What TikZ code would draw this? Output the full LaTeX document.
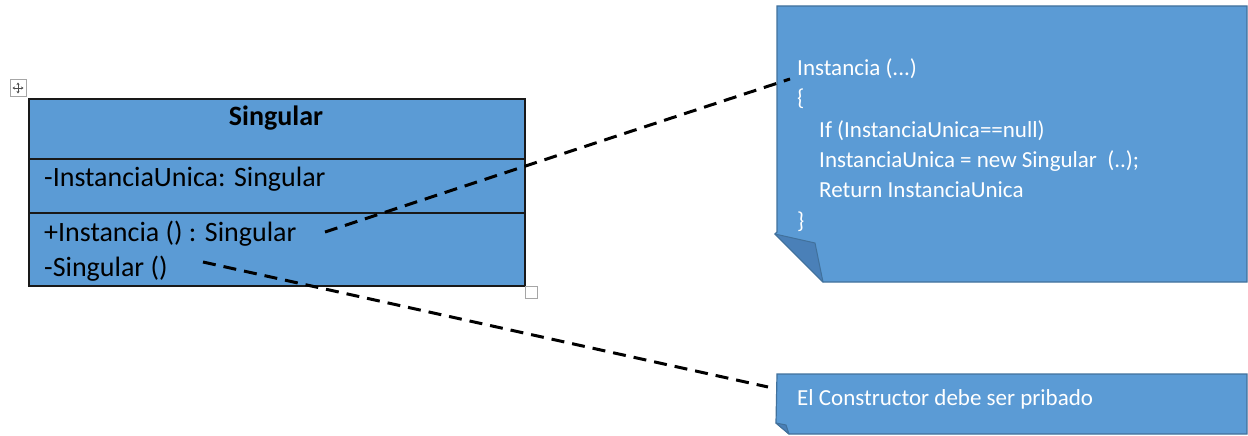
\documentclass[tikz,border=0pt]{standalone}
\usepackage{fontspec}
\setmainfont{Carlito}
\usetikzlibrary{arrows.meta}
\definecolor{offblue}{HTML}{5B9BD5}
\definecolor{offedge}{HTML}{41719C}
\definecolor{folddark}{HTML}{4A80B8}
\tikzset{
  umltxt/.style={anchor=base west, inner sep=0pt, font=\fontsize{28}{34}\selectfont, text=black},
  notetxt/.style={anchor=base west, inner sep=0pt, font=\fontsize{23}{30}\selectfont, text=white},
  connector/.style={draw=black, line width=3pt, dash pattern=on 13pt off 8pt},
  notebody/.style={fill=offblue, draw=offedge, line width=1.2pt},
  foldpart/.style={fill=folddark, draw=offedge, line width=1pt, line join=round},
  handle/.style={draw=black!35, line width=1pt},
}
\begin{document}
\begin{tikzpicture}[x=1pt,y=-1pt]
\useasboundingbox (0,0) rectangle (1248,436);

% class box
\node[draw=black!90, line width=1.5pt, fill=offblue, minimum width=496pt, minimum height=187pt, inner sep=0pt, anchor=north west] (cls) at (28,98) {};
\draw[black!90, line width=1.5pt] (28,159) -- (524,159);
\draw[black!90, line width=1.5pt] (28,213) -- (524,213);
\node[anchor=base, inner sep=0pt, font=\fontsize{28}{34}\selectfont\bfseries] (title) at (276,125) {Singular};
\node[umltxt] (attr) at (44,186) {-InstanciaUnica: Singular};
\node[umltxt] (m1) at (44,241) {+Instancia () : Singular};
\node[umltxt] (m2) at (44,276) {-Singular ()};

% handles
\draw[handle, fill=white] (10,80) rectangle (26,96);
\draw[black!70, line width=0.8pt, -{Stealth[length=2.5pt,width=3pt]}] (18,88) -- (18,82.5);
\draw[black!70, line width=0.8pt, -{Stealth[length=2.5pt,width=3pt]}] (18,88) -- (18,93.5);
\draw[black!70, line width=0.8pt, -{Stealth[length=2.5pt,width=3pt]}] (18,88) -- (12.5,88);
\draw[black!70, line width=0.8pt, -{Stealth[length=2.5pt,width=3pt]}] (18,88) -- (23.5,88);
\draw[handle, fill=white] (525,286) rectangle (537,298);

% note 1
\path[notebody] (777,6) -- (1247,6) -- (1247,282) -- (823,282) -- (775,234) -- (777,232) -- cycle;
\path[foldpart] (775,234) -- (815,243) -- (823,282) -- cycle;
\node[notetxt] (n1a) at (797,75) {Instancia (...)};
\node[notetxt] (n1b) at (797,106) {\{};
\node[notetxt] (n1c) at (819,137) {If (InstanciaUnica==null)};
\node[notetxt] (n1d) at (819,167) {InstanciaUnica = new Singular \ (..);};
\node[notetxt] (n1e) at (819,197) {Return InstanciaUnica};
\node[notetxt] (n1f) at (797,228) {\}};

% note 2
\path[notebody] (777,374) -- (1247,374) -- (1247,434) -- (789,434) -- (776,423) -- cycle;
\path[foldpart] (776,423) -- (786,425) -- (789,434) -- cycle;
\node[notetxt] (n2) at (797,405) {El Constructor debe ser pribado};

% connectors
\coordinate (c1s) at (325,232);
\coordinate (c1e) at (790,79);
\coordinate (c2s) at (203,262);
\coordinate (c2e) at (768,387);
\draw[connector] (c1s) -- (c1e);
\draw[connector] (c2s) -- (c2e);
\end{tikzpicture}
\end{document}
